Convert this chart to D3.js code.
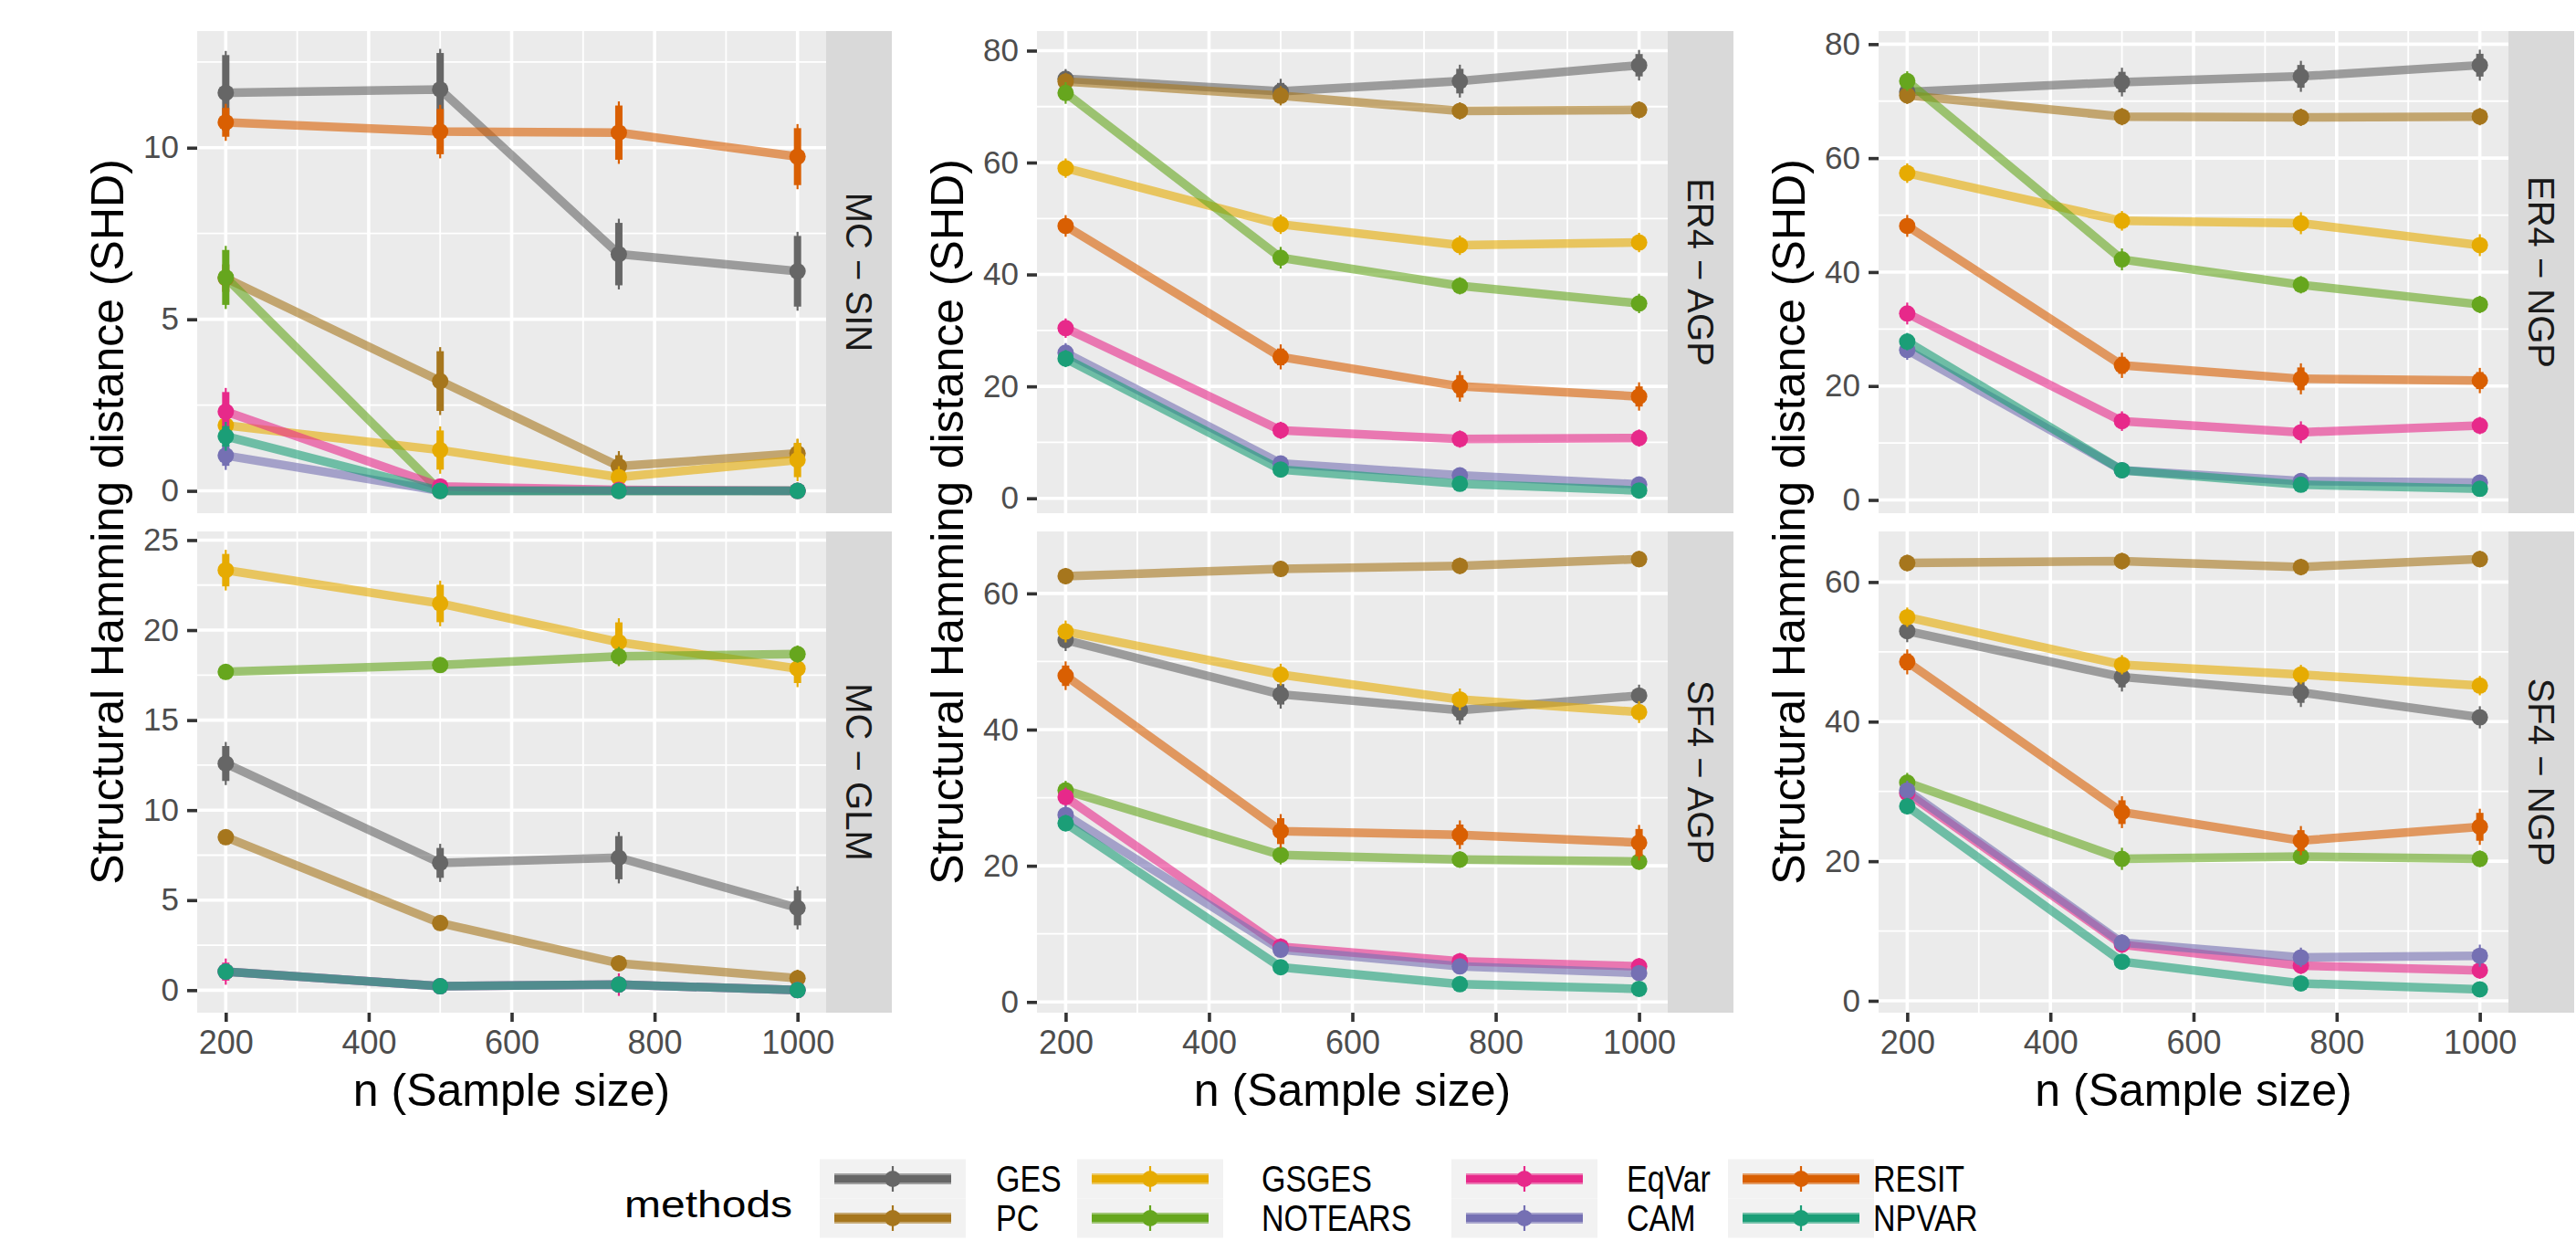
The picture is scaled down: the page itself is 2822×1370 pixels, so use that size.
<!DOCTYPE html>
<html>
<head>
<meta charset="utf-8">
<script src="https://cdn.jsdelivr.net/npm/d3@7"></script>
<style>
  body { margin: 0; background: #fff; }
  text { font-family: "Liberation Sans", Arial, Helvetica, sans-serif; }
</style>
</head>
<body>
<div id="chart"></div>
<script>
const sampleSizes = [200, 500, 750, 1000];
const methods = ["GES", "PC", "GSGES", "NOTEARS", "EqVar", "CAM", "RESIT", "NPVAR"];
const methodColors = ["#666666", "#A6761D", "#E6AB02", "#66A61E", "#E7298A", "#7570B3", "#D95F02", "#1B9E77"];
const xTicks = [200, 400, 600, 800, 1000];

// SHD means, one row per method (same order as methods)
const mcSinMean = [
  [11.6, 11.7, 6.9, 6.4],
  [6.2, 3.2, 0.72, 1.09],
  [1.91, 1.19, 0.40, 0.90],
  [6.22, 0, 0, 0],
  [2.31, 0.13, 0.03, 0],
  [1.03, 0, 0, 0],
  [10.74, 10.47, 10.44, 9.74],
  [1.59, 0, 0, 0]
];
const mcSinErr = [
  [1.1, 1.06, 0.91, 1.03],
  [0.4, 0.87, 0.32, 0.3],
  [0.3, 0.57, 0.2, 0.5],
  [0.8, 0, 0, 0],
  [0.57, 0.1, 0, 0],
  [0.3, 0, 0, 0],
  [0.42, 0.66, 0.79, 0.83],
  [0.3, 0, 0, 0]
];

const mcGlmMean = [
  [12.59, 7.07, 7.36, 4.57],
  [8.5, 3.73, 1.49, 0.66],
  [23.33, 21.48, 19.33, 17.86],
  [17.68, 18.06, 18.54, 18.67],
  [1.03, 0.22, 0.31, 0.0],
  [1.03, 0.22, 0.31, 0.0],
  [null, null, null, null],
  [1.03, 0.22, 0.31, 0.0]
];
const mcGlmErr = [
  [0.97, 0.83, 1.2, 0.97],
  [0.2, 0.2, 0.2, 0.25],
  [0.9, 1.04, 1.1, 0.8],
  [0.2, 0.2, 0.3, 0.25],
  [0.5, 0.1, 0.4, 0],
  [0.1, 0.1, 0.1, 0],
  [0, 0, 0, 0],
  [0.1, 0.1, 0.1, 0]
];

const er4AgpMean = [
  [74.97, 72.73, 74.55, 77.39],
  [74.5, 71.95, 69.23, 69.41],
  [59.0, 48.97, 45.22, 45.71],
  [72.43, 42.99, 37.97, 34.82],
  [30.41, 12.15, 10.58, 10.76],
  [26.0, 6.23, 4.11, 2.48],
  [48.67, 25.27, 20.01, 18.2],
  [24.97, 5.14, 2.6, 1.39]
];
const er4AgpErr = [
  [1.0, 1.5, 2.2, 2.0],
  [0.8, 1.0, 0.8, 0.8],
  [1.0, 1.0, 1.0, 1.0],
  [1.2, 1.2, 0.8, 1.0],
  [1.0, 0.8, 0.8, 0.8],
  [1.0, 0.6, 0.6, 0.6],
  [1.2, 1.5, 2.0, 1.8],
  [0.8, 0.5, 0.5, 0.4]
];

const sf4AgpMean = [
  [53.14, 45.18, 42.86, 45.0],
  [62.54, 63.59, 64.05, 65.04],
  [54.41, 48.08, 44.43, 42.57],
  [31.07, 21.6, 20.91, 20.62],
  [30.08, 8.13, 5.98, 5.23],
  [27.47, 7.67, 5.23, 4.24],
  [47.91, 25.09, 24.56, 23.4],
  [26.25, 5.11, 2.61, 1.92]
];
const sf4AgpErr = [
  [1.0, 1.5, 1.5, 1.0],
  [0.6, 0.6, 0.6, 0.6],
  [1.0, 1.0, 1.0, 1.0],
  [0.8, 0.8, 0.6, 0.6],
  [0.8, 0.6, 0.6, 0.6],
  [0.8, 0.6, 0.5, 0.5],
  [1.5, 1.9, 1.5, 2.0],
  [0.6, 0.4, 0.3, 0.3]
];

const er4NgpMean = [
  [71.62, 73.34, 74.35, 76.31],
  [71.02, 67.28, 67.16, 67.28],
  [57.36, 48.99, 48.57, 44.72],
  [73.52, 42.22, 37.77, 34.32],
  [32.72, 13.84, 11.88, 13.06],
  [26.31, 5.23, 3.33, 3.03],
  [48.1, 23.63, 21.26, 20.96],
  [27.79, 5.23, 2.67, 1.96]
];
const er4NgpErr = [
  [1.0, 1.8, 2.0, 2.0],
  [0.8, 0.8, 0.8, 0.8],
  [1.0, 1.0, 1.2, 1.2],
  [1.0, 1.2, 0.8, 0.8],
  [1.2, 1.0, 1.2, 0.8],
  [1.0, 0.5, 0.5, 0.5],
  [1.2, 1.5, 2.0, 1.5],
  [0.8, 0.5, 0.4, 0.4]
];

const sf4NgpMean = [
  [52.97, 46.4, 44.19, 40.62],
  [62.72, 63.0, 62.15, 63.29],
  [54.96, 48.16, 46.74, 45.16],
  [31.27, 20.34, 20.68, 20.34],
  [29.75, 8.05, 5.04, 4.36],
  [30.14, 8.33, 6.23, 6.46],
  [48.56, 27.03, 22.95, 24.93],
  [27.88, 5.61, 2.49, 1.64]
];
const sf4NgpErr = [
  [1.0, 1.5, 1.5, 1.0],
  [0.6, 0.6, 0.6, 0.6],
  [0.8, 0.8, 0.8, 0.8],
  [0.8, 1.0, 0.6, 0.6],
  [0.8, 0.6, 0.6, 0.6],
  [0.8, 0.6, 0.8, 1.0],
  [1.2, 1.7, 1.5, 2.0],
  [0.6, 0.4, 0.3, 0.3]
];

// panel layout (column, row, y range and tick step)
const panels = [
  { label: "MC \u2212 SIN", mean: mcSinMean, err: mcSinErr, col: 0, row: 0, domain: [-0.65, 13.4], step: 5 },
  { label: "MC \u2212 GLM", mean: mcGlmMean, err: mcGlmErr, col: 0, row: 1, domain: [-1.25, 25.48], step: 5 },
  { label: "ER4 \u2212 AGP", mean: er4AgpMean, err: er4AgpErr, col: 1, row: 0, domain: [-2.66, 83.5], step: 20 },
  { label: "SF4 \u2212 AGP", mean: sf4AgpMean, err: sf4AgpErr, col: 1, row: 1, domain: [-1.57, 69.1], step: 20 },
  { label: "ER4 \u2212 NGP", mean: er4NgpMean, err: er4NgpErr, col: 2, row: 0, domain: [-2.32, 82.3], step: 20 },
  { label: "SF4 \u2212 NGP", mean: sf4NgpMean, err: sf4NgpErr, col: 2, row: 1, domain: [-1.7, 67.25], step: 20 }
];

const cols = [{ x0: 216, x1: 905 }, { x0: 1136, x1: 1827 }, { x0: 2058, x1: 2748 }];
const rows = [{ y0: 34, y1: 562 }, { y0: 582, y1: 1109 }];
const stripW = 72;

const svg = d3.select("#chart")
  .append("svg")
  .attr("width", 2822)
  .attr("height", 1370);

svg.append("rect").attr("width", 2822).attr("height", 1370).attr("fill", "#fff");

panels.forEach(p => {
  const c = cols[p.col], r = rows[p.row];
  const x = d3.scaleLinear().domain([160, 1040]).range([c.x0, c.x1]);
  const y = d3.scaleLinear().domain(p.domain).range([r.y1, r.y0]);
  const g = svg.append("g");

  g.append("rect")
    .attr("x", c.x0).attr("y", r.y0)
    .attr("width", c.x1 - c.x0).attr("height", r.y1 - r.y0)
    .attr("fill", "#EBEBEB");

  const yMajor = d3.range(0, p.domain[1], p.step);
  const yMinor = d3.range(p.step / 2, p.domain[1], p.step);
  const xMinor = [300, 500, 700, 900];

  g.selectAll(".ymin").data(yMinor).enter().append("line")
    .attr("x1", c.x0).attr("x2", c.x1)
    .attr("y1", d => y(d)).attr("y2", d => y(d))
    .attr("stroke", "#fff").attr("stroke-width", 1.8);
  g.selectAll(".xmin").data(xMinor).enter().append("line")
    .attr("y1", r.y0).attr("y2", r.y1)
    .attr("x1", d => x(d)).attr("x2", d => x(d))
    .attr("stroke", "#fff").attr("stroke-width", 1.8);
  g.selectAll(".ymaj").data(yMajor).enter().append("line")
    .attr("x1", c.x0).attr("x2", c.x1)
    .attr("y1", d => y(d)).attr("y2", d => y(d))
    .attr("stroke", "#fff").attr("stroke-width", 3.6);
  g.selectAll(".xmaj").data(xTicks).enter().append("line")
    .attr("y1", r.y0).attr("y2", r.y1)
    .attr("x1", d => x(d)).attr("x2", d => x(d))
    .attr("stroke", "#fff").attr("stroke-width", 3.6);

  // y axis
  const yAxis = g.append("g")
    .attr("transform", `translate(${c.x0},0)`)
    .call(d3.axisLeft(y).tickValues(yMajor).tickSize(11).tickPadding(9));
  yAxis.select(".domain").remove();
  yAxis.selectAll(".tick line").attr("stroke", "#333333").attr("stroke-width", 3.6);
  yAxis.selectAll(".tick text")
    .attr("fill", "#4D4D4D").style("font-size", "35px")
    .style("font-family", '"Liberation Sans", Arial, sans-serif');

  if (p.row === 1) {
    const xAxis = g.append("g")
      .attr("transform", `translate(0,${r.y1})`)
      .call(d3.axisBottom(x).tickValues(xTicks).tickSize(10).tickPadding(9).tickFormat(d3.format("d")));
    xAxis.select(".domain").remove();
    xAxis.selectAll(".tick line").attr("stroke", "#333333").attr("stroke-width", 3.6);
    xAxis.selectAll(".tick text")
      .attr("fill", "#4D4D4D").style("font-size", "36px")
      .style("font-family", '"Liberation Sans", Arial, sans-serif');

    g.append("text")
      .attr("x", (c.x0 + c.x1) / 2)
      .attr("y", 1211)
      .attr("text-anchor", "middle")
      .style("font-size", "50px")
      .attr("fill", "#000")
      .text("n (Sample size)");
  }

  // strip
  g.append("rect")
    .attr("x", c.x1).attr("y", r.y0)
    .attr("width", stripW).attr("height", r.y1 - r.y0)
    .attr("fill", "#D9D9D9");
  g.append("text")
    .attr("transform", `translate(${c.x1 + stripW / 2},${(r.y0 + r.y1) / 2}) rotate(90)`)
    .attr("text-anchor", "middle")
    .attr("dominant-baseline", "central")
    .style("font-size", "40px")
    .attr("fill", "#1A1A1A")
    .text(p.label);

  const line = d3.line()
    .defined(d => d.v !== null)
    .x(d => x(d.n))
    .y(d => y(d.v));

  const series = methods.map((m, i) => ({
    color: methodColors[i],
    pts: sampleSizes.map((n, j) => ({ n: n, v: p.mean[i][j], e: p.err[i][j] }))
  }));

  // lines
  series.forEach(s => {
    g.append("path")
      .datum(s.pts)
      .attr("d", line)
      .attr("fill", "none")
      .attr("stroke", s.color)
      .attr("stroke-opacity", 0.6)
      .attr("stroke-width", 9.5)
      .attr("stroke-linejoin", "round");
  });

  // error bars and points
  series.forEach(s => {
    const pts = s.pts.filter(d => d.v !== null);
    g.selectAll(null).data(pts).enter().append("line")
      .attr("x1", d => x(d.n)).attr("x2", d => x(d.n))
      .attr("y1", d => y(d.v + d.e) - 4.5).attr("y2", d => y(d.v - d.e) + 4.5)
      .attr("stroke", s.color).attr("stroke-width", 2.2);
    g.selectAll(null).data(pts).enter().append("line")
      .attr("x1", d => x(d.n)).attr("x2", d => x(d.n))
      .attr("y1", d => y(d.v + d.e)).attr("y2", d => y(d.v - d.e))
      .attr("stroke", s.color).attr("stroke-width", 8);
    g.selectAll(null).data(pts).enter().append("circle")
      .attr("cx", d => x(d.n)).attr("cy", d => y(d.v))
      .attr("r", 9)
      .attr("fill", s.color);
  });
});

// y axis titles
cols.forEach(c => {
  svg.append("text")
    .attr("transform", `translate(${c.x0 - 81},${(rows[0].y0 + rows[1].y1) / 2}) rotate(-90)`)
    .attr("text-anchor", "middle")
    .style("font-size", "50px")
    .attr("fill", "#000")
    .text("Structural Hamming distance (SHD)");
});

// legend
const legendKeyX = [898, 1180, 1590, 1893];
const legendLabelX = [1091, 1382, 1782, 2052];
const legendRowY = [1291, 1334];
const keyW = 160, keyH = 43;

svg.append("text")
  .attr("transform", "translate(684,1333) scale(1.2,1)")
  .style("font-size", "40px")
  .attr("fill", "#000")
  .text("methods");

methods.forEach((m, i) => {
  const col = Math.floor(i / 2), row = i % 2;
  const kx = legendKeyX[col], ky = legendRowY[row];
  const lg = svg.append("g");
  lg.append("rect")
    .attr("x", kx).attr("y", ky - keyH / 2)
    .attr("width", keyW).attr("height", keyH)
    .attr("fill", "#F2F2F2");
  lg.append("line")
    .attr("x1", kx + 16).attr("x2", kx + keyW - 16)
    .attr("y1", ky).attr("y2", ky)
    .attr("stroke", methodColors[i]).attr("stroke-opacity", 0.6).attr("stroke-width", 12);
  lg.append("line")
    .attr("x1", kx + 16).attr("x2", kx + keyW - 16)
    .attr("y1", ky).attr("y2", ky)
    .attr("stroke", methodColors[i]).attr("stroke-width", 8);
  lg.append("line")
    .attr("x1", kx + keyW / 2).attr("x2", kx + keyW / 2)
    .attr("y1", ky - 14).attr("y2", ky + 14)
    .attr("stroke", methodColors[i]).attr("stroke-width", 2.2);
  lg.append("circle")
    .attr("cx", kx + keyW / 2).attr("cy", ky)
    .attr("r", 9)
    .attr("fill", methodColors[i]);
  lg.append("text")
    .attr("transform", `translate(${legendLabelX[col]},${ky}) scale(0.85,1)`)
    .attr("dy", "0.36em")
    .style("font-size", "40px")
    .attr("fill", "#000")
    .text(m);
});
</script>
</body>
</html>
